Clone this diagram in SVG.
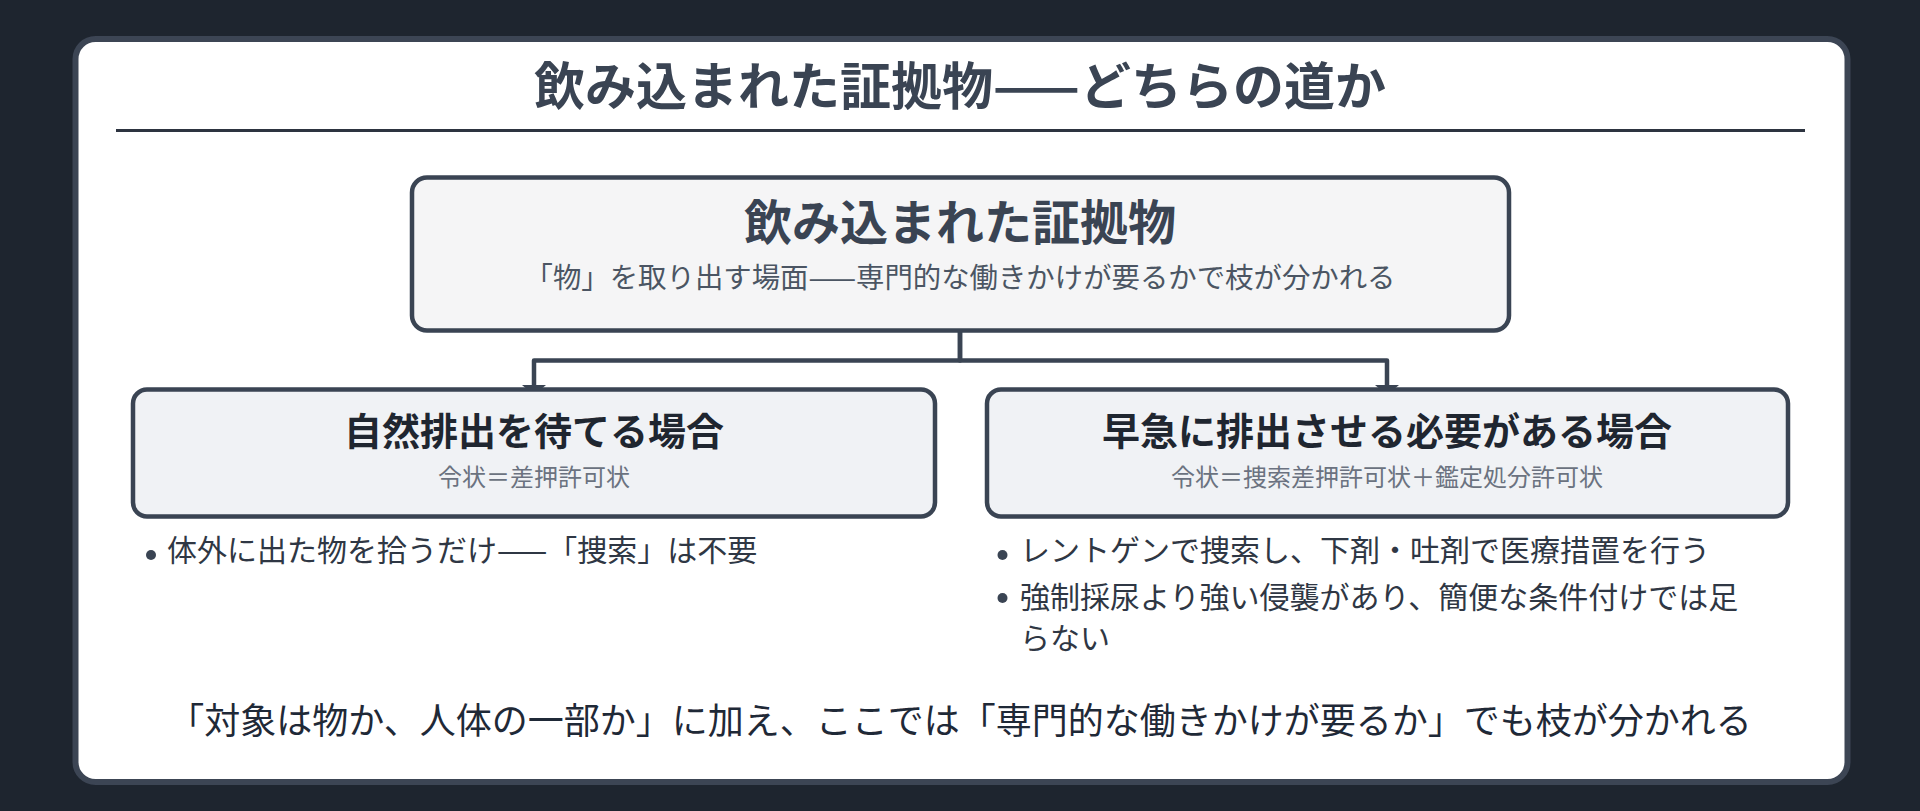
<svg xmlns="http://www.w3.org/2000/svg" width="1920" height="811" viewBox="0 0 1920 811">
  <style>
    text { font-family: "Noto Sans CJK JP", "Noto Sans", "Liberation Sans", sans-serif; }
    .title { font-size: 51px; font-weight: 700; fill: #3a4453; text-anchor: middle; }
    .rootTitle { font-size: 48px; font-weight: 700; fill: #3a4453; text-anchor: middle; }
    .rootSub { font-size: 28.4px; fill: #4b5563; text-anchor: middle; }
    .nodeTitle { font-size: 38px; font-weight: 700; fill: #1f2630; text-anchor: middle; }
    .nodeSub { font-size: 24px; fill: #6b7280; text-anchor: middle; }
    .bullet { font-size: 30px; fill: #2f3744; }
    .dot { fill: #3a4453; }
    .note { font-size: 36px; fill: #1f2937; text-anchor: middle; }
    .box { stroke: #3a4453; stroke-width: 4.5; }
    .conn { fill: none; stroke: #3a4453; stroke-width: 4.5; stroke-linejoin: round; marker-end: url(#arrow); }
  </style>
  <defs>
    <marker id="arrow" viewBox="0 0 10 24" refX="10" refY="12" markerWidth="10" markerHeight="24" markerUnits="userSpaceOnUse" orient="auto">
      <path d="M0,0 L10,12 L0,24 z" fill="#3a4453"/>
    </marker>
  </defs>
  <rect x="0" y="0" width="1920" height="811" fill="#1e252f"/>
  <rect id="card" x="75.5" y="39" width="1772" height="743" rx="20" fill="#ffffff" stroke="#3c4554" stroke-width="6"/>
  <g id="heading">
    <text class="title" x="960" y="104.5">飲み込まれた証拠物——どちらの道か</text>
    <line x1="116" y1="130.5" x2="1805" y2="130.5" stroke="#2d3440" stroke-width="3"/>
  </g>
  <g id="connectors">
    <path class="conn" d="M960 331 V360.5 H534 V395"/>
    <path class="conn" d="M960 331 V360.5 H1387 V395"/>
  </g>
  <g id="root">
    <rect class="box" x="412" y="177.5" width="1097" height="153" rx="15" fill="#f5f5f6"/>
    <text class="rootTitle" x="960" y="240">飲み込まれた証拠物</text>
    <text class="rootSub" x="960" y="288">「物」を取り出す場面——専門的な働きかけが要るかで枝が分かれる</text>
  </g>
  <g id="natural">
    <rect class="box" x="133" y="389.5" width="802" height="127" rx="14" fill="#f0f2f5"/>
    <text class="nodeTitle" x="534" y="445">自然排出を待てる場合</text>
    <text class="nodeSub" x="534" y="486">令状＝差押許可状</text>
  </g>
  <g id="urgent">
    <rect class="box" x="987" y="389.5" width="801" height="127" rx="14" fill="#f0f2f5"/>
    <text class="nodeTitle" x="1387" y="445">早急に排出させる必要がある場合</text>
    <text class="nodeSub" x="1387" y="486">令状＝捜索差押許可状＋鑑定処分許可状</text>
  </g>
  <g id="natural-notes">
    <circle class="dot" cx="151" cy="555" r="5"/>
    <text class="bullet" x="167" y="561">体外に出た物を拾うだけ——「捜索」は不要</text>
  </g>
  <g id="urgent-notes">
    <circle class="dot" cx="1002.5" cy="555" r="5"/>
    <text class="bullet" x="1020" y="561">レントゲンで捜索し、下剤・吐剤で医療措置を行う</text>
    <circle class="dot" cx="1002.5" cy="598" r="5"/>
    <text class="bullet" x="1020" y="608">強制採尿より強い侵襲があり、簡便な条件付けでは足</text>
    <text class="bullet" x="1020" y="649">らない</text>
  </g>
  <g id="footer">
    <text class="note" x="960" y="734">「対象は物か、人体の一部か」に加え、ここでは「専門的な働きかけが要るか」でも枝が分かれる</text>
  </g>
</svg>
